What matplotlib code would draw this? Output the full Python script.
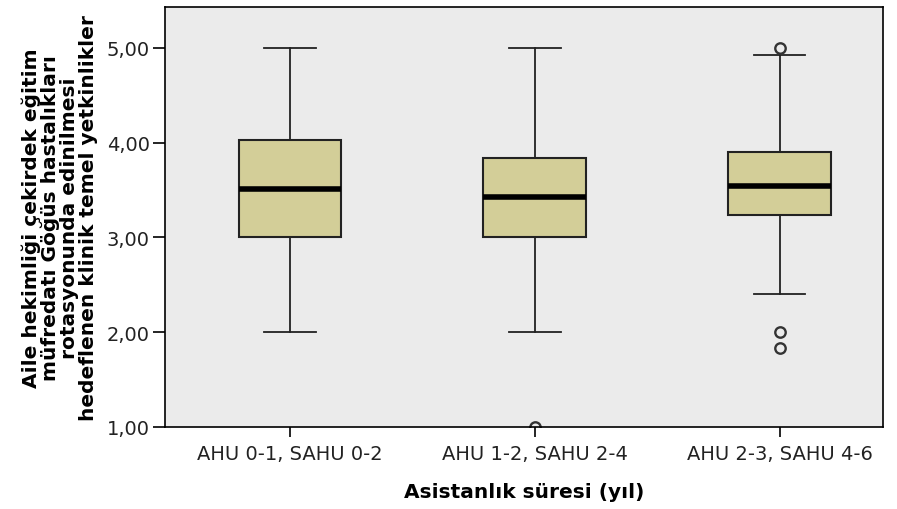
import matplotlib
matplotlib.use("Agg")
import matplotlib.pyplot as plt

plt.rcParams['font.family'] = ['DejaVu Sans']

# group labels and box summaries
groups = ['AHU 0-1, SAHU 0-2', 'AHU 1-2, SAHU 2-4', 'AHU 2-3, SAHU 4-6']
medians = [3.51, 3.43, 3.54]
q1 = [3.00, 3.00, 3.24]
q3 = [4.03, 3.84, 3.90]
whislo = [2.00, 2.00, 2.40]
whishi = [5.00, 5.00, 4.93]
outliers = [[], [1.00], [5.00, 2.00, 1.83]]

yticks = [1, 2, 3, 4, 5]
ytick_labels = ['1,00', '2,00', '3,00', '4,00', '5,00']

stats = []
for i, g in enumerate(groups):
    stats.append({'label': g, 'med': medians[i], 'q1': q1[i], 'q3': q3[i],
                  'whislo': whislo[i], 'whishi': whishi[i], 'fliers': outliers[i]})

fig = plt.figure(figsize=(8.97, 5.10), dpi=100)
ax = fig.add_axes([0.184, 0.161, 0.800, 0.823])
ax.set_facecolor('#EBEBEB')

ax.bxp(stats, positions=[1, 2, 3], widths=0.42, patch_artist=True, capwidths=0.21,
       boxprops=dict(facecolor='#D3CE98', edgecolor='#222222', linewidth=1.5),
       medianprops=dict(color='black', linewidth=4, solid_capstyle='butt'),
       whiskerprops=dict(color='#222222', linewidth=1.3),
       capprops=dict(color='#222222', linewidth=1.3),
       flierprops=dict(marker='o', markerfacecolor='none', markeredgecolor='#333333',
                       markersize=7.5, markeredgewidth=1.7))

ax.set_xlim(0.49, 3.42)
ax.set_ylim(1.0, 5.43)
ax.set_yticks(yticks)
ax.set_yticklabels(ytick_labels, fontsize=14, color='#222222')
ax.tick_params(axis='x', labelsize=14, labelcolor='#222222', length=7, width=1.2, pad=5)
ax.tick_params(axis='y', length=9, width=1.2, pad=2)
for s in ax.spines.values():
    s.set_linewidth(1.2)

ax.set_xlabel('Asistanlık süresi (yıl)', fontsize=14.5, fontweight='bold', labelpad=14)
ax.set_ylabel('Aile hekimliği çekirdek eğitim\nmüfredatı Göğüs hastalıkları\nrotasyonunda edinilmesi\nhedeflenen klinik temel yetkinlikler',
              fontsize=14.5, fontweight='bold', linespacing=1.0, labelpad=6)

fig.savefig('out.png', dpi=100)
